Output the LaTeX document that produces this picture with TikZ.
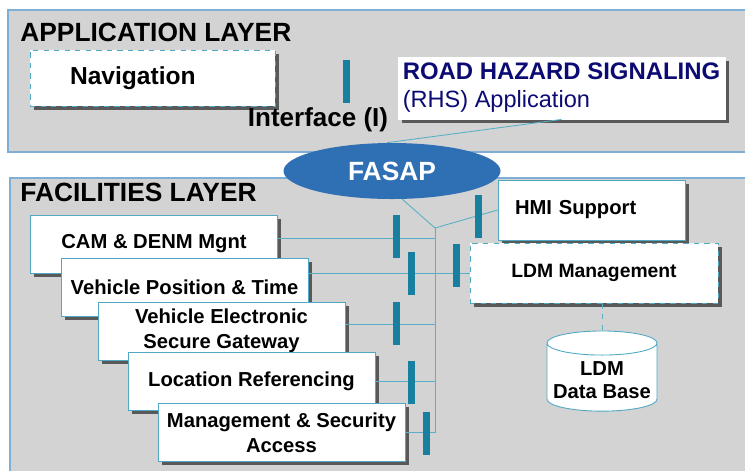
\documentclass[tikz,border=0pt]{standalone}
\usepackage{fontspec}
\setmainfont{Liberation Sans}
\usetikzlibrary{shapes.geometric,shadows}
\definecolor{panelgray}{HTML}{D3D3D3}
\definecolor{panelline}{HTML}{7FAED6}
\definecolor{boxline}{HTML}{4FA9C4}
\definecolor{barteal}{HTML}{17809F}
\definecolor{fasapblue}{HTML}{2F6FB3}
\definecolor{rhsnavy}{HTML}{0B0B73}
\definecolor{linkteal}{HTML}{5AAFC8}

\begin{document}
\begin{tikzpicture}[x=1cm,y=1cm,
  panel/.style={fill=panelgray, draw=panelline, line width=0.6pt},
  layertitle/.style={anchor=west, inner sep=0pt, font=\fontsize{15}{18}\selectfont\bfseries},
  facbox/.style={draw=boxline, fill=white, line width=0.5pt, minimum width=4.94cm, minimum height=1.16cm,
    align=center, font=\fontsize{11.5}{14.2}\selectfont\bfseries,
    drop shadow={shadow xshift=0.07cm, shadow yshift=-0.07cm, fill=black!65, opacity=1}},
  bar/.style={fill=barteal, minimum width=0.14cm, minimum height=0.86cm, inner sep=0pt},
  link/.style={draw=linkteal, line width=0.5pt}]

\useasboundingbox (0,0) rectangle (14.9,-9.4);
\fill[white] (0,0) rectangle (14.9,-9.4);
\clip (0,0) rectangle (14.9,-9.4);

% application layer
\draw[panel] (0.16,-0.2) rectangle (15.2,-3.04);
\node[layertitle] (apptitle) at (0.4,-0.64) {APPLICATION LAYER};
\node[facbox, dashed, minimum width=4.9cm, minimum height=1.12cm, text width=3.3cm, align=left, inner xsep=0.8cm,
  font=\fontsize{14}{17}\selectfont\bfseries] (nav) at (3.05,-1.56) {Navigation};
\node[facbox, draw=white, minimum width=6.54cm, minimum height=1.24cm, align=left, inner xsep=0.08cm,
  text=rhsnavy, font=\fontsize{13.4}{16}\selectfont] (rhs) at (11.23,-1.76)
  {{\fontsize{13.6}{16}\selectfont\bfseries ROAD HAZARD SIGNALING}\\(RHS) Application};
\node[bar] (appbar) at (6.93,-1.63) {};
\node[inner sep=0pt, font=\fontsize{14.8}{17}\selectfont\bfseries] (iface) at (6.36,-2.4) {Interface (I)};

% facilities layer
\draw[panel] (0.2,-3.56) rectangle (15.2,-9.8);
\node[layertitle] (factitle) at (0.4,-3.84) {FACILITIES LAYER};

% FASAP
\node[ellipse, fill=fasapblue, minimum width=4.34cm, minimum height=1.12cm, inner sep=0pt, text=white,
  font=\fontsize{15}{18}\selectfont\bfseries] (fasap) at (7.84,-3.42) {FASAP};
\draw[link] (fasap.100) -- (rhs.south);

\coordinate (j) at (8.7,-4.56);

\node[facbox] (cam) at (3.08,-4.88) {CAM \& DENM Mgnt};
\node[facbox] (vpt) at (3.69,-5.75) {Vehicle Position \& Time};
\node[facbox] (vesg) at (4.43,-6.62) {Vehicle Electronic\\Secure Gateway};
\node[facbox] (lr) at (5.03,-7.63) {Location Referencing};
\node[facbox] (msa) at (5.63,-8.65) {Management \& Security\\Access};

\node[facbox, minimum width=3.74cm, minimum height=1.2cm, text width=3.06cm, align=left, inner xsep=0.34cm] (hmi) at (11.83,-4.2) {HMI Support};
\node[facbox, dashed, minimum width=4.96cm, minimum height=1.2cm, font=\fontsize{11}{13}\selectfont\bfseries] (ldm) at (11.88,-5.46) {LDM Management};
\node[cylinder, shape border rotate=90, aspect=0.22, draw=boxline, fill=white, line width=0.5pt,
  minimum width=2.2cm, minimum height=1.34cm, align=center, font=\fontsize{11.5}{13.2}\selectfont\bfseries] (ldmdb) at (12.04,-7.6) {LDM\\Data Base};

\draw[link] (fasap.290) -- (j) -- (hmi.west);
\draw[link] (j) |- (msa.east);
\draw[link] ([yshift=0.12cm]cam.east) -- ([yshift=0.12cm]cam.east -| j);
\draw[link] (ldm.west -| vpt.east) -- (ldm.west);
\draw[link] ([yshift=0.14cm]vesg.east) -- ([yshift=0.14cm]vesg.east -| j);
\draw[link] (lr.east) -- (lr.east -| j);
\draw[link, dashed] (ldmdb.north |- ldm.south) -- (ldmdb.north);

\node[bar] (cambar) at (7.93,-4.73) {};
\node[bar] (vptbar) at (8.23,-5.47) {};
\node[bar] (vesgbar) at (7.93,-6.47) {};
\node[bar] (lrbar) at (8.23,-7.64) {};
\node[bar] (msabar) at (8.53,-8.67) {};
\node[bar] (ldmbar) at (9.13,-5.31) {};
\node[bar] (hmibar) at (9.56,-4.32) {};
\end{tikzpicture}
\end{document}
